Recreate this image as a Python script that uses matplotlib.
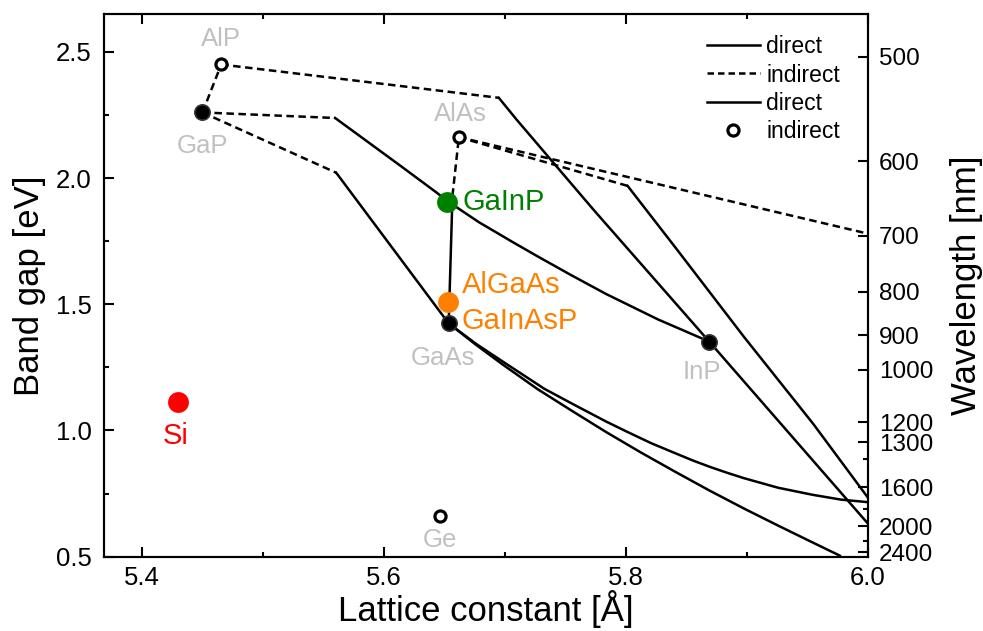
import numpy as np
import matplotlib.pyplot as plt
from matplotlib.lines import Line2D

plt.rcParams['font.family'] = ['Liberation Sans', 'DejaVu Sans']

# binary compounds: lattice constant (Angstrom) and band gap (eV)
binary_names = ['AlP', 'GaP', 'AlAs', 'GaAs', 'InP', 'Ge']
binary_a = [5.4655, 5.450, 5.662, 5.6536, 5.869, 5.646]
binary_eg = [2.45, 2.26, 2.162, 1.424, 1.352, 0.661]
binary_filled = [False, True, False, True, True, False]

# highlighted materials
mat_names = ['GaInP', 'AlGaAs', 'Si']
mat_a = [5.6525, 5.6528, 5.430]
mat_eg = [1.907, 1.51, 1.112]
mat_colors = ['#008000', '#ff8000', '#ff0000']

# ternary alloy curves, split into indirect (dashed) and direct (solid) parts
gap_alp_ind_a = [5.450, 5.4655]
gap_alp_ind_eg = [2.26, 2.45]

alp_inp_ind_a = [5.4655, 5.695]
alp_inp_ind_eg = [2.45, 2.318]
alp_inp_dir_a = [5.695, 5.710, 5.7736, 5.869]
alp_inp_dir_eg = [2.318, 2.230, 1.873, 1.352]

gap_inp_ind_a = [5.450, 5.5597]
gap_inp_ind_eg = [2.26, 2.238]
gap_inp_dir_a = [5.5597, 5.6136, 5.644, 5.6525, 5.6786, 5.707, 5.727, 5.755,
                 5.784, 5.8266, 5.869]
gap_inp_dir_eg = [2.238, 2.049, 1.941, 1.909, 1.825, 1.745, 1.690, 1.615,
                  1.540, 1.440, 1.352]

gap_gaas_ind_a = [5.450, 5.5606]
gap_gaas_ind_eg = [2.26, 2.021]
gap_gaas_dir_a = [5.5606, 5.6536]
gap_gaas_dir_eg = [2.021, 1.424]

gaas_alas_dir_a = [5.6536, 5.6567]
gaas_alas_dir_eg = [1.424, 1.93]
gaas_alas_ind_a = [5.6567, 5.662]
gaas_alas_ind_eg = [1.93, 2.162]

alas_alsb_ind_a = [5.662, 6.0]
alas_alsb_ind_eg = [2.162, 1.78]

alas_inas_ind_a = [5.662, 5.8015]
alas_inas_ind_eg = [2.162, 1.969]
alas_inas_dir_a = [5.8015, 5.841, 5.898, 5.955, 6.0]
alas_inas_dir_eg = [1.969, 1.725, 1.369, 1.026, 0.735]

inp_inas_dir_a = [5.869, 6.0]
inp_inas_dir_eg = [1.352, 0.632]

gaas_gasb_dir_a = [5.6536, 5.676, 5.6986, 5.7327, 5.760, 5.7839, 5.801, 5.8208,
                   5.8408, 5.856, 5.870, 5.884, 5.8977, 5.926, 5.9546, 5.978, 6.0]
gaas_gasb_dir_eg = [1.424, 1.344, 1.272, 1.165, 1.095, 1.035, 0.995, 0.950,
                    0.910, 0.880, 0.855, 0.832, 0.811, 0.773, 0.745, 0.726, 0.716]

gaas_inas_dir_a = [5.6536, 5.676, 5.6986, 5.727, 5.7554, 5.784, 5.8124, 5.841,
                   5.8692, 5.898, 5.926, 5.952, 5.977]
gaas_inas_dir_eg = [1.424, 1.340, 1.260, 1.164, 1.078, 0.993, 0.913, 0.836,
                    0.762, 0.690, 0.623, 0.562, 0.504]

wl_ticks = [500, 600, 700, 800, 900, 1000, 1200, 1300, 1600, 2000, 2400]
wl_minor = [1400, 1800, 2200]

fig = plt.figure(figsize=(9.83, 6.31), dpi=100)
ax = fig.add_axes([0.1063, 0.1178, 0.7764, 0.86])

lw = 1.8
dash = (0, (3.0, 1.8))
indirect = [(gap_alp_ind_a, gap_alp_ind_eg), (alp_inp_ind_a, alp_inp_ind_eg),
            (gap_inp_ind_a, gap_inp_ind_eg), (gap_gaas_ind_a, gap_gaas_ind_eg),
            (gaas_alas_ind_a, gaas_alas_ind_eg), (alas_alsb_ind_a, alas_alsb_ind_eg),
            (alas_inas_ind_a, alas_inas_ind_eg)]
direct = [(alp_inp_dir_a, alp_inp_dir_eg), (gap_inp_dir_a, gap_inp_dir_eg),
          (gap_gaas_dir_a, gap_gaas_dir_eg), (gaas_alas_dir_a, gaas_alas_dir_eg),
          (alas_inas_dir_a, alas_inas_dir_eg), (inp_inas_dir_a, inp_inas_dir_eg),
          (gaas_gasb_dir_a, gaas_gasb_dir_eg), (gaas_inas_dir_a, gaas_inas_dir_eg)]
for a, eg in indirect:
    ax.plot(a, eg, color='black', lw=lw, linestyle=dash, zorder=2)
for a, eg in direct:
    ax.plot(a, eg, color='black', lw=lw, zorder=2, solid_joinstyle='round')

# binaries
for a, eg, filled in zip(binary_a, binary_eg, binary_filled):
    if filled:
        ax.plot(a, eg, 'o', ms=11, mfc='black', mec='#333333', mew=1.2, zorder=4)
    else:
        ax.plot(a, eg, 'o', ms=8, mfc='white', mec='black', mew=2.3, zorder=4)

for a, eg, c in zip(mat_a, mat_eg, mat_colors):
    ax.plot(a, eg, 'o', ms=15, mfc=c, mec='none', zorder=3)

gray = '#c0c0c0'
binary_offsets = {'AlP': (0, 18), 'GaP': (0, -24), 'AlAs': (1, 17), 'GaAs': (-4, -25),
                  'InP': (-5, -22), 'Ge': (0, -17)}
for name, a, eg in zip(binary_names, binary_a, binary_eg):
    ax.annotate(name, (a, eg), xytext=binary_offsets[name], textcoords='offset points',
                ha='center', va='center', fontsize=18.5, color=gray, zorder=5)

ax.annotate('GaInP', (mat_a[0], mat_eg[0]), xytext=(11, 0), textcoords='offset points',
            ha='left', va='center', fontsize=21, color=mat_colors[0])
ax.annotate('AlGaAs', (mat_a[1], mat_eg[1]), xytext=(10, 12), textcoords='offset points',
            ha='left', va='center', fontsize=21, color=mat_colors[1])
ax.annotate('GaInAsP', (binary_a[3], binary_eg[3]), xytext=(9, 2), textcoords='offset points',
            ha='left', va='center', fontsize=21, color=mat_colors[1])
ax.annotate('Si', (mat_a[2], mat_eg[2]), xytext=(-2, -24), textcoords='offset points',
            ha='center', va='center', fontsize=21, color=mat_colors[2])

ax.set_xlim(5.369, 6.0)
ax.set_ylim(0.5, 2.65)
ax.set_xticks([5.4, 5.6, 5.8, 6.0])
ax.set_xticks([5.5, 5.7, 5.9], minor=True)
ax.set_yticks([0.5, 1.0, 1.5, 2.0, 2.5])
ax.set_yticks([0.75, 1.25, 1.75, 2.25], minor=True)
ax.tick_params(which='both', direction='in', width=1.5, top=True, right=False,
               labelsize=18.5)
ax.tick_params(which='major', length=7)
ax.tick_params(which='minor', length=3.5)
ax.tick_params(axis='y', pad=9)
ax.tick_params(axis='x', pad=7)
for s in ax.spines.values():
    s.set_linewidth(1.5)

ax.set_xlabel('Lattice constant [Å]', fontsize=25, labelpad=0)
ax.set_ylabel('Band gap [eV]', fontsize=25, labelpad=7)

# wavelength scale on the right
ax2 = ax.twinx()
ax2.set_ylim(ax.get_ylim())
ax2.set_yticks([1240.0 / w for w in wl_ticks])
ax2.set_yticklabels([str(w) for w in wl_ticks])
ax2.set_yticks([1240.0 / w for w in wl_minor], minor=True)
ax2.tick_params(which='both', direction='in', width=1.5, labelsize=17.5, pad=8)
ax2.tick_params(which='major', length=7)
ax2.tick_params(which='minor', length=3.5)
ax2.set_ylabel('Wavelength [nm]', fontsize=25, labelpad=12)
for s in ax2.spines.values():
    s.set_linewidth(1.5)

handles = [Line2D([], [], color='black', lw=lw),
           Line2D([], [], color='black', lw=lw, linestyle=(0, (2.6, 1.6))),
           Line2D([], [], color='black', lw=lw),
           Line2D([], [], ls='none', marker='o', ms=8, mfc='white', mec='black', mew=2.3)]
ax.legend(handles, ['direct', 'indirect', 'direct', 'indirect'], loc='upper right',
          bbox_to_anchor=(0.985, 0.99), frameon=False, fontsize=16.5,
          handlelength=2.3, handletextpad=0.3, labelspacing=0.22, borderaxespad=0.3)

fig.savefig('out.png', dpi=100)
